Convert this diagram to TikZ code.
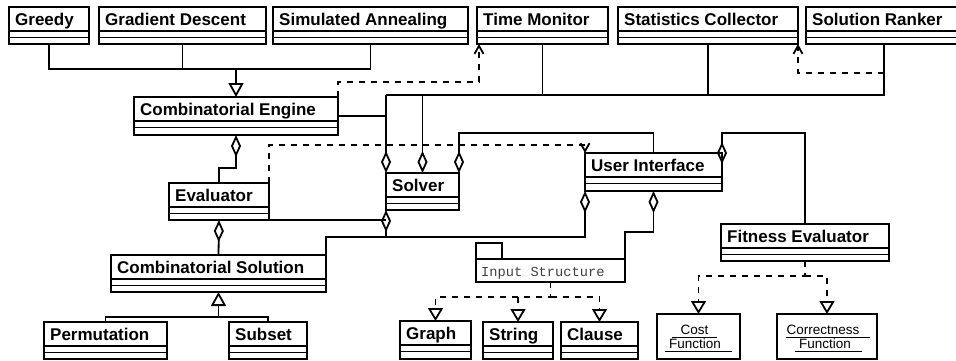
\documentclass[tikz,border=0pt]{standalone}
\usepackage{fontspec}
\setmainfont{Liberation Sans}
\setmonofont{Liberation Mono}
\usetikzlibrary{arrows.meta,calc}

\tikzset{
  classbox/.style={draw, line width=1.8pt, fill=white, rectangle, inner sep=0pt, outer sep=0pt},
  boxline/.style={line width=1.8pt},
  classname/.style={inner sep=0pt, font=\fontsize{17}{20}\selectfont\bfseries},
  objtext/.style={inner sep=0pt, font=\fontsize{13.5}{16}\selectfont},
  uline/.style={line width=1pt},
  conn/.style={line width=1.8pt},
  dep/.style={conn, dash pattern=on 6pt off 6pt, -{Straight Barb[length=8pt,width=9pt]}},
  gen/.style={conn, -{Triangle[open,length=14pt,width=15pt]}},
  real/.style={conn, dash pattern=on 6pt off 6pt, -{Triangle[open,length=13pt,width=15pt]}},
  agg/.style={conn, {Diamond[open,length=22pt,width=10pt]}-},
}

% UML class: name, left, top, right, bottom, title
\newcommand{\umlclass}[6]{%
  \node[classbox, anchor=north west, minimum width={(#4)-(#2)}, minimum height={(#5)-(#3)}] (#1) at (#2,#3) {};
  \draw[boxline] ($(#1.north west)+(0,24)$) -- ($(#1.north east)+(0,24)$);
  \draw[boxline] ($(#1.north west)+(0,30.5)$) -- ($(#1.north east)+(0,30.5)$);
  \node[classname, anchor=base west] (#1-name) at ($(#1.north west)+(6,18)$) {#6};
}

\begin{document}
\begin{tikzpicture}[x=1pt,y=-1pt]
\useasboundingbox (0,0) rectangle (956,360);
\fill[white] (0,0) rectangle (956,360);

% top row
\umlclass{greedy}{9}{7}{89}{44}{Greedy}
\umlclass{gradient}{99}{7}{266}{44}{Gradient Descent}
\umlclass{annealing}{273}{7}{468}{44}{Simulated Annealing}
\umlclass{timemon}{477}{7}{608}{44}{Time Monitor}
\umlclass{stats}{618}{7}{798}{44}{Statistics Collector}
\umlclass{ranker}{806}{7}{962}{44}{Solution Ranker}

% middle
\umlclass{engine}{134}{97}{338}{135}{Combinatorial Engine}
\umlclass{evaluator}{169}{183}{269}{220}{Evaluator}
\umlclass{solver}{386}{173}{459}{210}{Solver}
\umlclass{ui}{585}{153}{722}{191}{User Interface}
\umlclass{fe}{721}{224}{889}{261}{Fitness Evaluator}
\umlclass{cs}{111}{255}{326}{292}{Combinatorial Solution}

% bottom row
\umlclass{perm}{44}{322}{167}{359}{Permutation}
\umlclass{subset}{229}{322}{307}{359}{Subset}
\umlclass{graph}{400}{321}{471}{359}{Graph}
\umlclass{string}{483}{322}{553}{359}{String}
\umlclass{clause}{561}{322}{638}{359}{Clause}

% input structure package
\node[classbox, anchor=north west, minimum width=26, minimum height=16] (pkgtab) at (476,243) {};
\node[classbox, anchor=north west, minimum width=149, minimum height=23] (pkg) at (476,259) {};
\node[anchor=base west, inner sep=0pt, font=\fontsize{13.7}{16}\ttfamily, text=black!75] (pkgname) at (481,276) {Input Structure};

% function objects
\node[classbox, anchor=north west, minimum width=83, minimum height=45] (costfn) at (657,314) {};
\node[objtext, anchor=base] (costa) at (694.5,334) {Cost};
\node[objtext, anchor=base] (costb) at (695,348) {Function};
\draw[uline] (672,337) -- (717,337);
\draw[uline] (665,351) -- (732,351);
\node[classbox, anchor=north west, minimum width=100, minimum height=45] (corrfn) at (777,314) {};
\node[objtext, anchor=base] (corra) at (823,334) {Correctness};
\node[objtext, anchor=base] (corrb) at (825,348) {Function};
\draw[uline] (786,337) -- (870,337);
\draw[uline] (795,351) -- (862,351);

% route levels
\coordinate (y69) at (0,69);
\coordinate (y73) at (0,73);
\coordinate (y95) at (0,95);
\coordinate (y133) at (0,133);
\coordinate (y145) at (0,145);
\coordinate (y168) at (0,168);
\coordinate (y232) at (0,232);
\coordinate (y237) at (0,237);
\coordinate (y276) at (0,276);
\coordinate (y297) at (0,297);
\coordinate (y317) at (0,317);
\coordinate (tmdep) at (479,82);

% search strategies specialise the engine
\draw[conn] (greedy.south) |- (annealing.south |- y69) -- (annealing.south);
\draw[conn] (gradient.south) -- (gradient.south |- y69);
\draw[gen] (engine.north |- y69) -- (engine.north);

% engine uses the time monitor
\draw[dep] (engine.north east) |- (tmdep) -- (tmdep |- timemon.south);

% monitors, collectors and rankers attached to the solver
\draw[conn] (timemon.south) -- (timemon.south |- y95);
\draw[conn] (stats.south) -- (stats.south |- y95);
\draw[conn] (ranker.south) -- (ranker.south |- y95) -- (solver.north west |- y95);
\draw[dep] (ranker.south |- y73) -| (stats.south east);
\draw[conn] (engine.east) -- (engine.east -| solver.north west);
\draw[agg] (solver.north west) -- (solver.north west |- y95);
\draw[agg] (solver.north) -- (solver.north |- y95);
\draw[agg] (solver.north east) -- (solver.north east |- y133) -| (ui.north);

% evaluator links
\draw[dep] (evaluator.north east) -- (evaluator.north east |- y145) -| (ui.north west);
\draw[agg] (engine.south) -- (engine.south |- y168) -| (evaluator.north);
\draw[agg] (evaluator.south) -- (cs.north);
\draw[conn] (evaluator.south east) -- (evaluator.south east -| solver.south west);
\draw[agg] (solver.south west) -- (solver.south west |- y237);

% user interface parts
\draw[agg] (ui.south west) -- (ui.south west |- y237) -| (cs.north east);
\draw[agg] (ui.south) -- (ui.south |- y232) -| (pkg.north east);
\draw[agg] ($(ui.north east)+(0,11)$) -- (ui.north east |- y133) -| (fe.north);

% realisations
\draw[real] (fe.south) -- (fe.south |- y276) -| (costfn.north);
\draw[real] (fe.south |- y276) -| (corrfn.north);
\draw[real] (pkg.south) -- (pkg.south |- y297) -| (graph.north);
\draw[real] (pkg.south |- y297) -| (clause.north);
\draw[real] (string.north |- y297) -- (string.north);

% solution kinds
\draw[conn] (perm.north) |- (subset.north |- y317) -- (subset.north);
\draw[gen] (cs.south |- y317) -- (cs.south);
\end{tikzpicture}
\end{document}
